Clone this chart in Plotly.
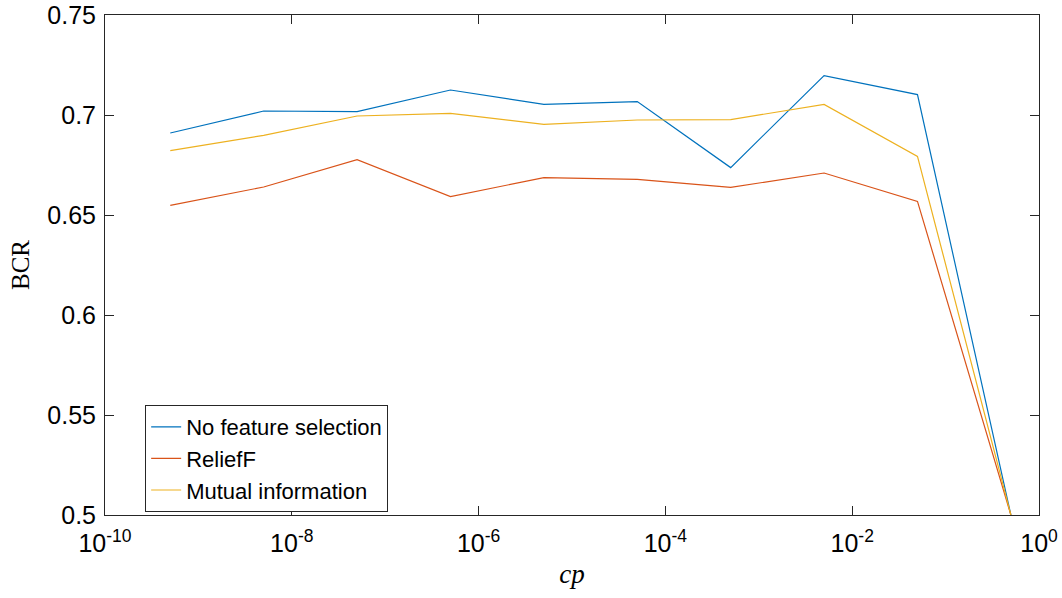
import plotly.graph_objects as go

cp = [5e-10, 5e-9, 5e-8, 5e-7, 5e-6, 5e-5, 5e-4, 5e-3, 5e-2, 5e-1]
no_fs = [0.691, 0.702, 0.7017, 0.7125, 0.7053, 0.7067, 0.6737, 0.7197, 0.7102, 0.5]
relieff = [0.6548, 0.664, 0.6777, 0.6592, 0.6687, 0.6678, 0.6638, 0.671, 0.6568, 0.5]
mutual = [0.6822, 0.6898, 0.6995, 0.7008, 0.6953, 0.6975, 0.6977, 0.7053, 0.6793, 0.5]
names = ["No feature selection", "ReliefF", "Mutual information"]
colors = ["#0072BD", "#D95319", "#EDB120"]
x_tickvals = [1e-10, 1e-8, 1e-6, 1e-4, 1e-2, 1]
x_ticktext = ["10<sup>-10</sup>", "10<sup>-8</sup>", "10<sup>-6</sup>",
              "10<sup>-4</sup>", "10<sup>-2</sup>", "10<sup>0</sup>"]
y_tickvals = [0.5, 0.55, 0.6, 0.65, 0.7, 0.75]
y_ticktext = ["0.5", "0.55", "0.6", "0.65", "0.7", "0.75"]

fig = go.Figure()
for name, ys, c in zip(names, [no_fs, relieff, mutual], colors):
    fig.add_trace(go.Scatter(x=cp, y=ys, mode="lines", name=name,
                             line=dict(color=c, width=1.2)))

axis_common = dict(showline=True, linecolor="#262626", linewidth=1, mirror="ticks",
                   ticks="inside", ticklen=9, tickcolor="#262626", showgrid=False,
                   zeroline=False, automargin=False,
                   tickfont=dict(family="Liberation Sans, Arial", size=25, color="#000000"))

fig.update_layout(
    width=1062, height=598,
    margin=dict(l=105, r=23, t=15, b=83),
    paper_bgcolor="white", plot_bgcolor="white",
    font=dict(family="Liberation Sans, Arial", color="#000000"),
    xaxis=dict(type="log", range=[-10, 0], tickvals=x_tickvals, ticktext=x_ticktext,
               ticklabelstandoff=6,
               title=dict(text="<i>cp</i>", font=dict(family="Liberation Serif, Times New Roman", size=27),
                          standoff=8),
               **axis_common),
    yaxis=dict(range=[0.5, 0.75], tickvals=y_tickvals, ticktext=y_ticktext,
               ticklabelstandoff=3,
               title=dict(text="BCR", font=dict(family="Liberation Serif, Times New Roman", size=25),
                          standoff=10),
               **axis_common),
    legend=dict(x=0.043, y=0.22, xanchor="left", yanchor="top",
                bgcolor="white", bordercolor="#262626", borderwidth=1,
                font=dict(family="Liberation Sans, Arial", size=22, color="#000000"),
                tracegroupgap=0, itemwidth=30),
    showlegend=True,
)

fig.write_html("out.html")
